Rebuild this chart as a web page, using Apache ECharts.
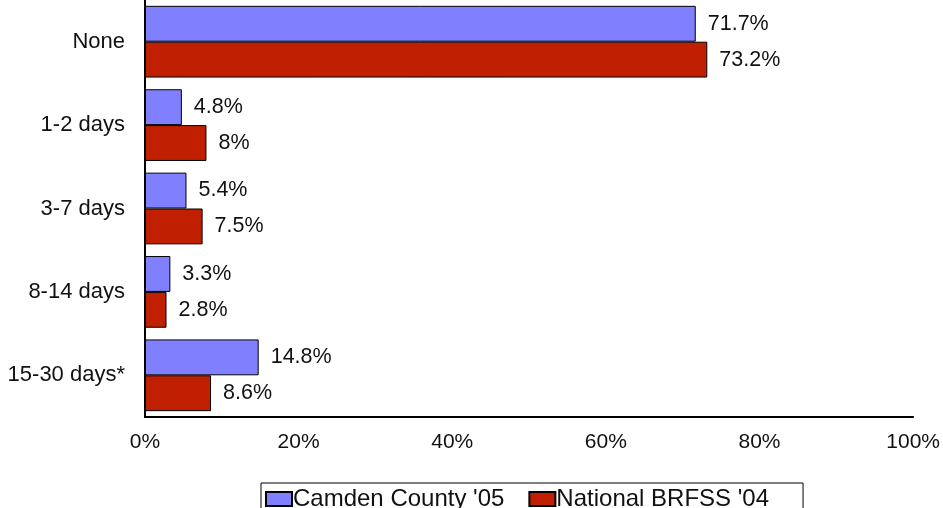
<!DOCTYPE html>
<html><head><meta charset="utf-8">
<script src="https://cdn.jsdelivr.net/npm/echarts@6/dist/echarts.min.js"></script>
<style>html,body{margin:0;padding:0;background:#fff}#c{width:943px;height:508px}</style>
</head><body><div id="c"></div>
<script>
const categories = ["None", "1-2 days", "3-7 days", "8-14 days", "15-30 days*"];
const camden = [71.7, 4.8, 5.4, 3.3, 14.8];
const national = [73.2, 8, 7.5, 2.8, 8.6];
const xTicks = [0, 20, 40, 60, 80, 100];
const seriesNames = ["Camden County '05", "National BRFSS '04"];

const font = "Liberation Sans, Arial, sans-serif";
const chart = echarts.init(document.getElementById('c'), null, {renderer: 'canvas'});
chart.setOption({
  animation: false,
  textStyle: {fontFamily: font},
  grid: {left: 145, right: 26, top: 0, height: 417, containLabel: false},
  xAxis: {
    type: 'value', min: xTicks[0], max: xTicks[xTicks.length - 1], interval: 20,
    axisLine: {show: true, lineStyle: {color: '#000', width: 2}},
    axisTick: {show: false},
    splitLine: {show: false},
    axisLabel: {formatter: '{value}%', fontSize: 21, color: '#111', margin: 15, fontFamily: font}
  },
  yAxis: {
    type: 'category', data: categories, inverse: true,
    axisLine: {show: true, lineStyle: {color: '#000', width: 2}},
    axisTick: {show: false},
    axisLabel: {fontSize: 22, color: '#111', margin: 20, fontFamily: font}
  },
  legend: {
    data: seriesNames, left: 261, top: 483,
    itemWidth: 26, itemHeight: 14, itemGap: 24,
    borderColor: '#000', borderWidth: 1, padding: [4, 34, 10, 4],
    textStyle: {fontSize: 24, color: '#111', fontFamily: font, padding: [0, 0, 0, -4]},
    icon: 'rect'
  },
  series: [
    {name: seriesNames[0], type: 'bar', data: camden, barGap: '0%', barCategoryGap: '14%',
     itemStyle: {color: '#8080FF', borderColor: '#000', borderWidth: 1},
     label: {show: true, position: 'right', distance: 12, formatter: '{c}%', fontSize: 21.5, color: '#111', fontFamily: font}},
    {name: seriesNames[1], type: 'bar', data: national, barGap: '0%', barCategoryGap: '14%',
     itemStyle: {color: '#C02000', borderColor: '#000', borderWidth: 1},
     label: {show: true, position: 'right', distance: 12, formatter: '{c}%', fontSize: 21.5, color: '#111', fontFamily: font}}
  ]
});
</script></body></html>
